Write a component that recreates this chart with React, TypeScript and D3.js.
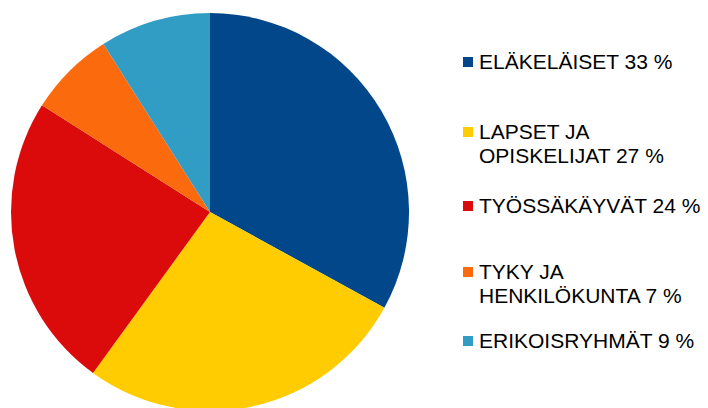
import React from "react";
import * as d3 from "d3";

const categories = ["ELÄKELÄISET", "LAPSET JA OPISKELIJAT", "TYÖSSÄKÄYVÄT", "TYKY JA HENKILÖKUNTA", "ERIKOISRYHMÄT"];
const values = [33, 27, 24, 7, 9];
const legendLines = [
  ["ELÄKELÄISET 33 %"],
  ["LAPSET JA", "OPISKELIJAT 27 %"],
  ["TYÖSSÄKÄYVÄT 24 %"],
  ["TYKY JA", "HENKILÖKUNTA 7 %"],
  ["ERIKOISRYHMÄT 9 %"],
];
const colors = ["#02478A", "#FECC00", "#DC0B0B", "#FC6A0E", "#319DC4"];

const W = 708, H = 408;
const cx = 210, cy = 212, R = 199;
const legendBaselines = [69, 139, 213, 279, 348];

export default function App() {
  const pie = d3.pie<number>().sort(null).value((d) => d);
  const arcs = pie(values);
  const arc = d3.arc<d3.PieArcDatum<number>>().innerRadius(0).outerRadius(R);
  return (
    <svg width={W} height={H} style={{ position: "absolute", left: 0, top: 0, background: "#fff" }}>
      <g transform={`translate(${cx},${cy})`}>
        {arcs.map((a, i) => (
          <path key={categories[i]} d={arc(a) || ""} fill={colors[i]} />
        ))}
      </g>
      {legendLines.map((lines, i) => (
        <g key={i}>
          <rect x={463} y={legendBaselines[i] - 12} width={10} height={10} fill={colors[i]} />
          <text x={479} y={legendBaselines[i]} fontFamily="'Liberation Sans', Arial, sans-serif" fontSize={21} fill="#000">
            {lines.map((l, j) => (
              <tspan key={j} x={479} dy={j === 0 ? 0 : 24}>{l}</tspan>
            ))}
          </text>
        </g>
      ))}
    </svg>
  );
}
